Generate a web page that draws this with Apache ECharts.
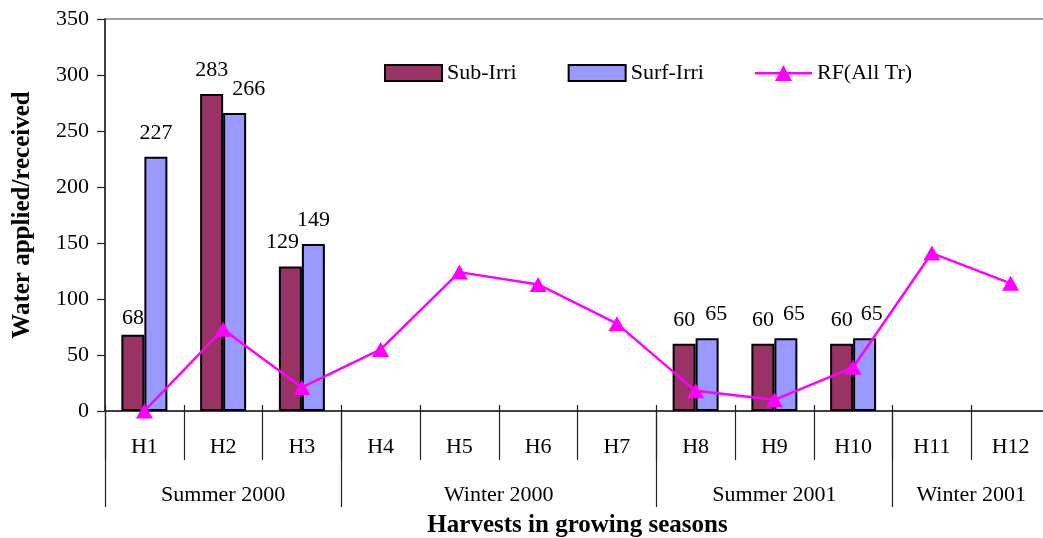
<!DOCTYPE html>
<html>
<head>
<meta charset="utf-8">
<title>Water applied/received per harvest</title>
<script src="https://cdn.jsdelivr.net/npm/echarts@6/dist/echarts.min.js"></script>
<style>
  html, body { margin: 0; padding: 0; background: #fff; overflow: hidden; }
  #chart { width: 1043px; height: 538px; }
</style>
</head>
<body>
<div id="chart"></div>
<script>
// Harvest categories and values (water applied / rainfall received)
const harvests = ['H1', 'H2', 'H3', 'H4', 'H5', 'H6', 'H7', 'H8', 'H9', 'H10', 'H11', 'H12'];
const subIrri  = [68, 283, 129, null, null, null, null, 60, 60, 60, null, null];
const surfIrri = [227, 266, 149, null, null, null, null, 65, 65, 65, null, null];
const rainfall = [0, 73, 21, 55, 124, 113, 78, 18, 10, 39, 141, 114];

// Growing seasons and how many harvests each one spans
const seasonNames   = ['Summer 2000', 'Winter 2000', 'Summer 2001', 'Winter 2001'];
const seasonLengths = [3, 4, 3, 2];

// Y axis scale
const yMin = 0, yMax = 350, yStep = 50;

// Small label nudges (index -> [dx, dy]) so neighbouring value labels don't collide
const subNudge  = { 0: [0, 7], 2: [-8, 0] };
const surfNudge = { 1: [14, 0], 7: [9, 0], 8: [8, 0], 9: [7, 0] };

const FONT = '"Liberation Serif", "Times New Roman", serif';
const INK = '#000';
const RF_COLOR = '#FF00FF';

// Legend glyph for the rainfall line: a short line with a triangle on it (57 x 16 box)
const RF_ICON = 'path://M0,7H24.8L28.5,0L32.2,7H57V9.5H33.5L37,16H20L23.5,9.5H0Z';

function withNudges(values, nudges) {
  return values.map((v, i) => {
    if (v === null) return null;
    const item = { value: v };
    if (nudges[i]) item.label = { offset: nudges[i] };
    return item;
  });
}

// Season axis: points every half harvest, so boundaries and centres fall on points
const halfPoints = harvests.length * 2 + 1;
const seasonAxisData = new Array(halfPoints).fill('');
const seasonBoundaries = new Set([0]);
let acc = 0;
seasonNames.forEach((name, k) => {
  seasonAxisData[acc * 2 + seasonLengths[k]] = name;
  acc += seasonLengths[k];
  seasonBoundaries.add(acc * 2);
});

const chart = echarts.init(document.getElementById('chart'), null, { renderer: 'canvas' });

chart.setOption({
  animation: false,
  backgroundColor: '#fff',
  textStyle: { fontFamily: FONT, color: INK },
  grid: {
    left: 105, width: 945, top: 19, height: 392,
    outerBoundsMode: 'none', containLabel: false,
    show: true, borderColor: '#808080', borderWidth: 1.5, backgroundColor: 'transparent'
  },
  legend: {
    left: 384, top: 62, padding: 0,
    itemWidth: 57, itemHeight: 16, itemGap: 51,
    textStyle: { fontFamily: FONT, fontSize: 22, color: INK },
    data: [
      { name: 'Sub-Irri', icon: 'rect' },
      { name: 'Surf-Irri', icon: 'rect' },
      { name: 'RF(All Tr)', icon: RF_ICON, itemStyle: { color: RF_COLOR, borderWidth: 0 } }
    ]
  },
  xAxis: [
    {
      type: 'category', data: harvests, position: 'bottom', offset: 0,
      boundaryGap: true,
      axisLine: { show: true, lineStyle: { color: '#222', width: 1.5 } },
      axisTick: { show: true, inside: true, length: 6, interval: 0, lineStyle: { color: '#222', width: 1.2 } },
      axisLabel: { interval: 0, margin: 25, fontFamily: FONT, fontSize: 22, color: INK },
      name: 'Harvests in growing seasons', nameLocation: 'middle', nameGap: 102,
      nameTextStyle: { fontFamily: FONT, fontSize: 25, fontWeight: 'bold', color: INK }
    },
    {
      type: 'category', data: harvests, position: 'bottom', offset: 0,
      boundaryGap: true,
      axisLine: { show: false },
      axisTick: { show: true, length: 49, interval: 0, lineStyle: { color: '#222', width: 1.2 } },
      axisLabel: { show: false }
    },
    {
      type: 'category', data: seasonAxisData, position: 'bottom', offset: 0,
      boundaryGap: false,
      axisLine: { show: false },
      axisTick: {
        show: true, length: 96, lineStyle: { color: '#222', width: 1.2 },
        interval: (i) => seasonBoundaries.has(i)
      },
      axisLabel: {
        margin: 73, fontFamily: FONT, fontSize: 22, color: INK,
        interval: (i, v) => v !== ''
      }
    }
  ],
  yAxis: {
    type: 'value', min: yMin, max: yMax, interval: yStep,
    axisLine: { show: true, lineStyle: { color: '#222', width: 1.5 } },
    axisTick: { show: true, length: 8, lineStyle: { color: '#222', width: 1.2 } },
    splitLine: { show: false },
    axisLabel: { margin: 16, fontFamily: FONT, fontSize: 22, color: INK },
    name: 'Water applied/received', nameLocation: 'middle', nameGap: 70,
    nameTextStyle: { fontFamily: FONT, fontSize: 25, fontWeight: 'bold', color: INK }
  },
  series: [
    {
      name: 'Sub-Irri', type: 'bar', xAxisIndex: 0,
      data: withNudges(subIrri, subNudge),
      barWidth: 23, barGap: '0%',
      itemStyle: { color: '#993366', borderColor: '#000', borderWidth: 2 },
      label: { show: true, position: 'top', distance: 13, fontFamily: FONT, fontSize: 22, color: INK }
    },
    {
      name: 'Surf-Irri', type: 'bar', xAxisIndex: 0,
      data: withNudges(surfIrri, surfNudge),
      barWidth: 23, barGap: '0%',
      itemStyle: { color: '#9999FF', borderColor: '#000', borderWidth: 2 },
      label: { show: true, position: 'top', distance: 13, fontFamily: FONT, fontSize: 22, color: INK }
    },
    {
      name: 'RF(All Tr)', type: 'line', xAxisIndex: 0,
      data: rainfall, clip: false, z: 5,
      symbol: 'triangle', symbolSize: [17, 15],
      lineStyle: { color: RF_COLOR, width: 2.5 },
      itemStyle: { color: RF_COLOR }
    }
  ]
});
</script>
</body>
</html>
